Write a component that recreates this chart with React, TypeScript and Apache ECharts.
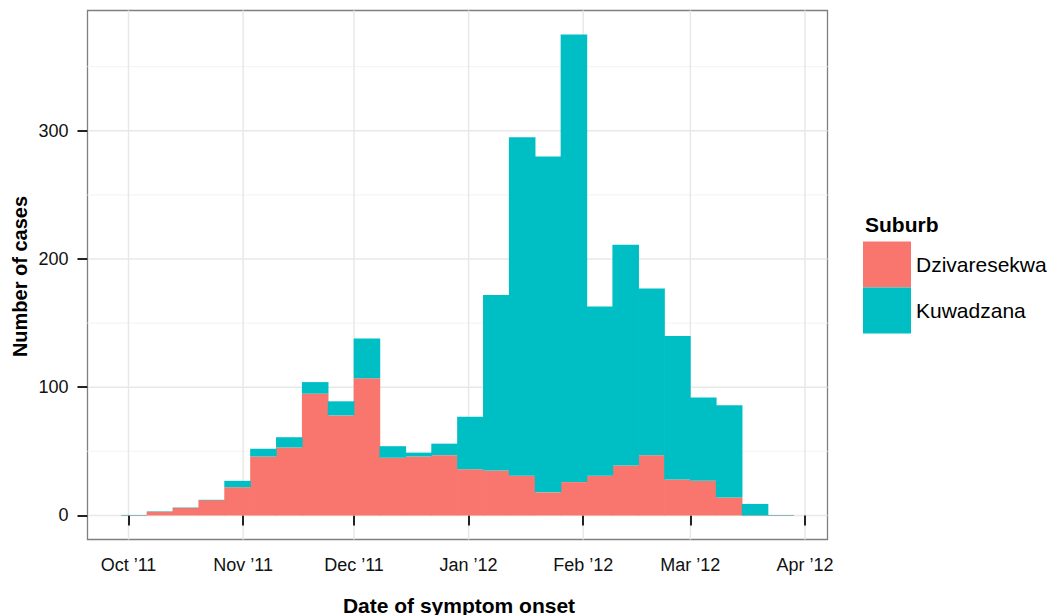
import React, { useEffect, useRef } from "react";
import * as echarts from "echarts";

// Weekly bins (start dates, 7-day width)
const weekStarts = [
  "2011-09-29", "2011-10-06", "2011-10-13", "2011-10-20", "2011-10-27",
  "2011-11-03", "2011-11-10", "2011-11-17", "2011-11-24", "2011-12-01",
  "2011-12-08", "2011-12-15", "2011-12-22", "2011-12-29", "2012-01-05",
  "2012-01-12", "2012-01-19", "2012-01-26", "2012-02-02", "2012-02-09",
  "2012-02-16", "2012-02-23", "2012-03-01", "2012-03-08", "2012-03-15",
  "2012-03-22",
];
const binDays = 7;
const dzivaresekwa = [0, 3, 6, 12, 22, 46, 53, 95, 78, 107, 45, 46, 47, 36, 35, 31, 18, 26, 31, 39, 47, 28, 27, 14, 0, 0];
const kuwadzana = [0, 0, 0, 0, 5, 6, 8, 9, 11, 31, 9, 3, 9, 41, 137, 264, 262, 349, 132, 172, 130, 112, 65, 72, 9, 0];

const monthTicks = ["2011-10-01", "2011-11-01", "2011-12-01", "2012-01-01", "2012-02-01", "2012-03-01", "2012-04-01"];
const monthNames = ["Jan", "Feb", "Mar", "Apr", "May", "Jun", "Jul", "Aug", "Sep", "Oct", "Nov", "Dec"];
const yMajor = [0, 100, 200, 300];
const yMinor = [50, 150, 250, 350];

const COLORS = { dz: "#F8766D", ku: "#00BFC4" };
const FONT = '"Liberation Sans", Arial, Helvetica, sans-serif';
const DAY = 86400000;

function ts(s: string) {
  const [y, m, d] = s.split("-").map(Number);
  return Date.UTC(y, m - 1, d);
}

export default function App() {
  const ref = useRef<HTMLDivElement>(null);

  useEffect(() => {
    if (!ref.current) return;
    const chart = echarts.init(ref.current, undefined, { renderer: "svg" });

    const starts = weekStarts.map(ts);
    const ends = starts.map((s) => s + binDays * DAY);
    const dataMin = starts[0];
    const dataMax = ends[ends.length - 1];
    const span = dataMax - dataMin;
    const xMin = dataMin - 0.05 * span;
    const xMax = dataMax + 0.05 * span;
    const totals = dzivaresekwa.map((d, i) => d + kuwadzana[i]);
    const yTop = Math.max(...totals);
    const yMin = -0.05 * yTop;
    const yMax = yTop * 1.05;

    const dzData = starts.map((s, i) => [s, ends[i], 0, dzivaresekwa[i]]);
    const kuData = starts.map((s, i) => [s, ends[i], dzivaresekwa[i], totals[i]]);

    const barRender = (color: string, drawZero: boolean) => (params: any, api: any) => {
      const x0 = api.value(0);
      const x1 = api.value(1);
      const b = api.value(2);
      const t = api.value(3);
      const p0 = api.coord([x0, b]);
      const p1 = api.coord([x1, t]);
      if (t === b) {
        if (!drawZero) return null;
        return {
          type: "line",
          shape: { x1: p0[0], y1: p0[1], x2: p1[0], y2: p0[1] },
          style: { stroke: color, lineWidth: 0.8, opacity: 0.55 },
        };
      }
      return {
        type: "rect",
        shape: { x: p0[0] - 0.35, y: p1[1], width: p1[0] - p0[0] + 0.7, height: p0[1] - p1[1] },
        style: { fill: color },
      };
    };

    const monthTs = monthTicks.map(ts);

    chart.setOption({
      animation: false,
      textStyle: { fontFamily: FONT },
      grid: {
        left: 87.5,
        top: 10.5,
        width: 740,
        height: 529,
        show: true,
        borderColor: "#7f7f7f",
        borderWidth: 1.3,
        backgroundColor: "transparent",
        containLabel: false,
        outerBoundsMode: "none",
      },
      xAxis: {
        type: "value",
        min: xMin,
        max: xMax,
        axisLine: { show: false },
        splitLine: { show: false },
        axisTick: {
          show: true,
          customValues: monthTs,
          length: 10,
          lineStyle: { color: "#222", width: 2 },
        },
        axisLabel: {
          customValues: monthTs,
          margin: 16,
          fontSize: 18,
          fontFamily: FONT,
          color: "#111",
          formatter: (v: number) => {
            const d = new Date(v);
            const yy = String(d.getUTCFullYear()).slice(2);
            return `${monthNames[d.getUTCMonth()]} \u2019${yy}`;
          },
        },
      },
      yAxis: {
        type: "value",
        min: yMin,
        max: yMax,
        axisLine: { show: false },
        splitLine: { show: false },
        axisTick: {
          show: true,
          customValues: yMajor,
          length: 10,
          lineStyle: { color: "#222", width: 2 },
        },
        axisLabel: {
          customValues: yMajor,
          margin: 19,
          fontSize: 18,
          fontFamily: FONT,
          color: "#111",
        },
      },
      legend: {
        orient: "vertical",
        left: 863,
        top: 241.5,
        padding: 0,
        itemWidth: 48,
        itemHeight: 46,
        itemGap: 0,
        icon: "rect",
        selectedMode: false,
        data: ["Dzivaresekwa", "Kuwadzana"],
        textStyle: { fontSize: 21, color: "#000", fontFamily: FONT },
      },
      graphic: [
        {
          type: "text",
          x: 19.5,
          y: 276.5,
          rotation: Math.PI / 2,
          style: {
            text: "Number of cases",
            font: `bold 20px ${FONT}`,
            fill: "#000",
            align: "center",
            verticalAlign: "middle",
          },
        },
        {
          type: "text",
          x: 459,
          y: 605,
          style: {
            text: "Date of symptom onset",
            font: `bold 21px ${FONT}`,
            fill: "#000",
            align: "center",
            verticalAlign: "middle",
          },
        },
        {
          type: "text",
          x: 865,
          y: 224,
          style: {
            text: "Suburb",
            font: `bold 21px ${FONT}`,
            fill: "#000",
            align: "left",
            verticalAlign: "middle",
          },
        },
      ],
      series: [
        {
          name: "hminor",
          type: "custom",
          silent: true,
          z: 0,
          data: yMinor.map((v) => [xMin, v]),
          renderItem: (params: any, api: any) => {
            const cs = params.coordSys;
            const p = api.coord([api.value(0), api.value(1)]);
            return {
              type: "line",
              shape: { x1: cs.x, y1: p[1], x2: cs.x + cs.width, y2: p[1] },
              style: { stroke: "#f5f5f5", lineWidth: 1.2 },
            };
          },
        },
        {
          name: "hmajor",
          type: "custom",
          silent: true,
          z: 0,
          data: yMajor.map((v) => [xMin, v]),
          renderItem: (params: any, api: any) => {
            const cs = params.coordSys;
            const p = api.coord([api.value(0), api.value(1)]);
            return {
              type: "line",
              shape: { x1: cs.x, y1: p[1], x2: cs.x + cs.width, y2: p[1] },
              style: { stroke: "#e8e8e8", lineWidth: 1.5 },
            };
          },
        },
        {
          name: "vmajor",
          type: "custom",
          silent: true,
          z: 0,
          data: monthTs.map((v) => [v, 0]),
          renderItem: (params: any, api: any) => {
            const cs = params.coordSys;
            const p = api.coord([api.value(0), api.value(1)]);
            return {
              type: "line",
              shape: { x1: p[0], y1: cs.y, x2: p[0], y2: cs.y + cs.height },
              style: { stroke: "#e8e8e8", lineWidth: 1.5 },
            };
          },
        },
        {
          name: "Dzivaresekwa",
          type: "custom",
          z: 2,
          itemStyle: { color: COLORS.dz },
          encode: { x: [0, 1], y: [2, 3] },
          data: dzData,
          renderItem: barRender(COLORS.dz, true),
        },
        {
          name: "Kuwadzana",
          type: "custom",
          z: 3,
          itemStyle: { color: COLORS.ku },
          encode: { x: [0, 1], y: [2, 3] },
          data: kuData,
          renderItem: barRender(COLORS.ku, true),
        },
      ],
    });

    return () => chart.dispose();
  }, []);

  return (
    <div
      ref={ref}
      style={{ position: "absolute", left: 0, top: 0, width: 1050, height: 615, background: "#fff" }}
    />
  );
}
